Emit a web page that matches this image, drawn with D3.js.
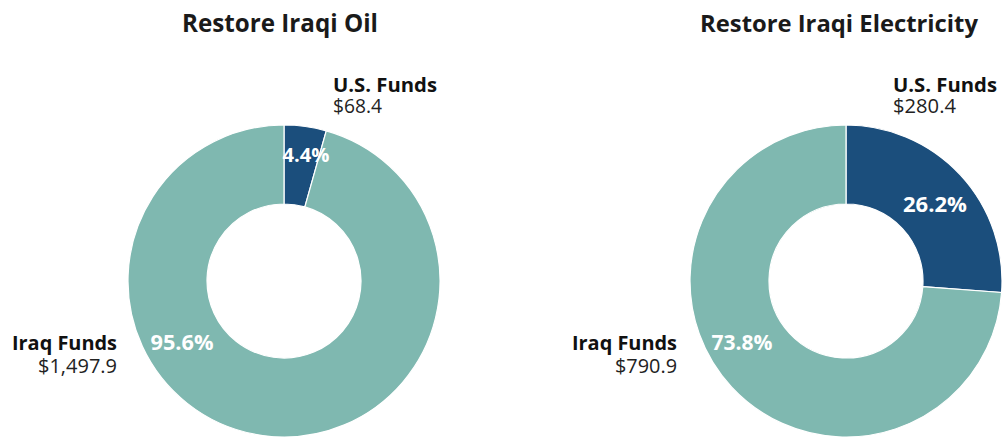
<!DOCTYPE html>
<html>
<head>
<meta charset="utf-8">
<script src="https://cdn.jsdelivr.net/npm/d3@7/dist/d3.min.js"></script>
<style>
  html, body { margin: 0; padding: 0; background: #fff; }
  svg { display: block; }
  text { font-family: "Open Sans", "Noto Sans", sans-serif; }
</style>
</head>
<body>
<svg id="chart" width="1003" height="438"></svg>
<script>
// Data (millions of dollars)
const charts = ["Restore Iraqi Oil", "Restore Iraqi Electricity"];
const categories = ["U.S. Funds", "Iraq Funds"];
const oilValues = [68.4, 1497.9];
const electricityValues = [280.4, 790.9];
const oilLabels = ["$68.4", "$1,497.9"];
const electricityLabels = ["$280.4", "$790.9"];
const oilPercents = ["4.4%", "95.6%"];
const electricityPercents = ["26.2%", "73.8%"];

const colors = d3.scaleOrdinal().domain(categories).range(["#1b4e7c", "#7fb8b0"]);

const svg = d3.select("#chart");
const outerR = 156, innerR = 77;

const layout = [
  { title: charts[0], values: oilValues, labels: oilLabels, pcts: oilPercents, cx: 284, cy: 281,
    titleX: 280, titleW: 196,
    usPos: [333, 92], usW: 104, usValW: 49,
    iraqPos: [117, 350], iraqW: 105, iraqValW: 79,
    pctPos: [[306, 162], [182, 350]], pctW: [47, 63] },
  { title: charts[1], values: electricityValues, labels: electricityLabels, pcts: electricityPercents, cx: 846, cy: 281,
    titleX: 839, titleW: 278,
    usPos: [893, 92], usW: 104, usValW: 63,
    iraqPos: [677, 350], iraqW: 105, iraqValW: 62,
    pctPos: [[935, 212], [742, 350]], pctW: [64, 61] }
];

const pie = d3.pie().sort(null).value(d => d);
const arc = d3.arc().innerRadius(innerR).outerRadius(outerR);

function fit(sel, base, target) {
  sel.attr("font-size", base);
  const w = sel.node().getComputedTextLength();
  if (w > 0) sel.attr("font-size", (base * target / w).toFixed(2));
  return sel;
}

function twoLine(x, y, anchor, name, value, nameW, valW, gap) {
  const t = svg.append("text").attr("x", x).attr("y", y).attr("text-anchor", anchor);
  const a = t.append("tspan").attr("x", x).attr("y", y)
    .attr("font-weight", 700).attr("fill", "#111").text(name);
  fit(a, 20, nameW);
  const b = t.append("tspan").attr("x", x).attr("y", y + gap)
    .attr("font-weight", 400).attr("fill", "#222").text(value);
  fit(b, 19, valW);
}

layout.forEach(c => {
  const g = svg.append("g").attr("transform", `translate(${c.cx},${c.cy})`);
  const arcs = pie(c.values);
  g.selectAll("path").data(arcs).enter().append("path")
    .attr("d", arc)
    .attr("fill", (d, i) => colors(categories[i]))
    .attr("stroke", "#fff")
    .attr("stroke-width", 1.2);

  fit(svg.append("text")
    .attr("x", c.titleX).attr("y", 32)
    .attr("text-anchor", "middle")
    .attr("font-weight", 700)
    .attr("fill", "#1a1a1a")
    .text(c.title), 24, c.titleW);

  twoLine(c.usPos[0], c.usPos[1], "start", categories[0], c.labels[0], c.usW, c.usValW, 21);
  twoLine(c.iraqPos[0], c.iraqPos[1], "end", categories[1], c.labels[1], c.iraqW, c.iraqValW, 23);

  c.pcts.forEach((p, i) => {
    fit(svg.append("text").attr("x", c.pctPos[i][0]).attr("y", c.pctPos[i][1])
      .attr("text-anchor", "middle")
      .attr("font-weight", 700).attr("fill", "#fff")
      .text(p), 21, c.pctW[i]);
  });
});
</script>
</body>
</html>
